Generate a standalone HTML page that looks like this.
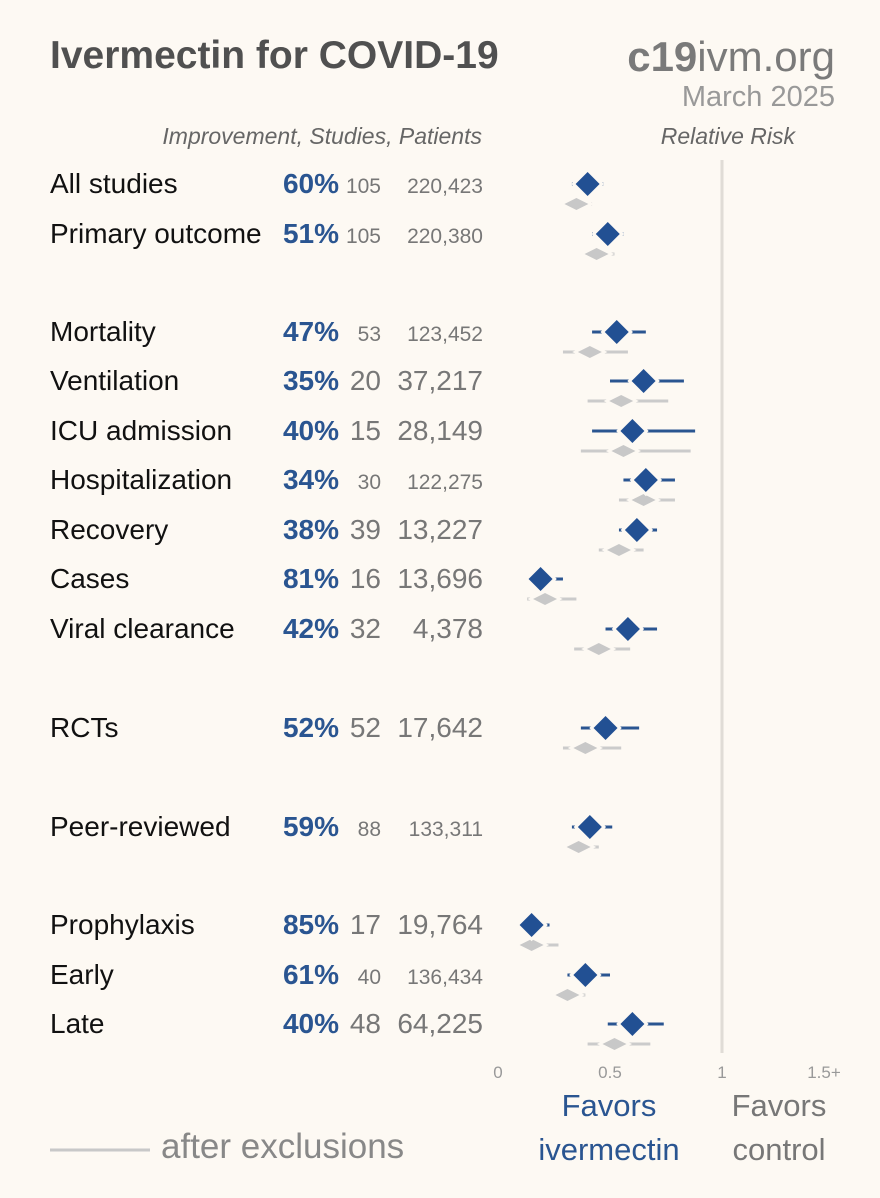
<!DOCTYPE html>
<html><head><meta charset="utf-8"><style>
html,body{margin:0;padding:0;background:#fdf9f3;}
svg{display:block;font-family:"Liberation Sans Narrow","Liberation Sans",sans-serif;}
</style></head><body>
<svg id="chart" width="880" height="1198" viewBox="0 0 880 1198" xmlns="http://www.w3.org/2000/svg">
<rect width="880" height="1198" fill="#fdf9f3"/>
<text x="50" y="68" font-family="Liberation Sans, sans-serif" font-weight="bold" font-size="39" fill="#505050">Ivermectin for COVID-19</text>
<text x="835" y="71" text-anchor="end" font-family="Liberation Sans, sans-serif" font-size="42" fill="#7a7a7a"><tspan font-weight="bold">c19</tspan>ivm.org</text>
<text x="835" y="106" text-anchor="end" font-size="29" fill="#999">March 2025</text>
<text x="482" y="144" text-anchor="end" font-style="italic" font-size="23" fill="#666">Improvement, Studies, Patients</text>
<text x="795" y="144" text-anchor="end" font-style="italic" font-size="23" fill="#666">Relative Risk</text>
<line x1="722" y1="160" x2="722" y2="1053" stroke="#e0dcd6" stroke-width="3"/>
<g id="rows"></g>
<g id="marks"></g>
<g id="ticks"></g>
<text x="609" y="1116" text-anchor="middle" font-size="31" fill="#2a5591">Favors</text>
<text x="609" y="1160" text-anchor="middle" font-size="31" fill="#2a5591">ivermectin</text>
<text x="779" y="1116" text-anchor="middle" font-size="31" fill="#777">Favors</text>
<text x="779" y="1160" text-anchor="middle" font-size="31" fill="#777">control</text>
<line x1="50" y1="1150" x2="150" y2="1150" stroke="#c8c8c8" stroke-width="3"/>
<text x="161" y="1158" font-size="35" fill="#888">after exclusions</text>
</svg>
<script>
const labels=["All studies","Primary outcome","Mortality","Ventilation","ICU admission","Hospitalization","Recovery","Cases","Viral clearance","RCTs","Peer-reviewed","Prophylaxis","Early","Late"];
const improvement=["60%","51%","47%","35%","40%","34%","38%","81%","42%","52%","59%","85%","61%","40%"];
const studies=["105","105","53","20","15","30","39","16","32","52","88","17","40","48"];
const patients=["220,423","220,380","123,452","37,217","28,149","122,275","13,227","13,696","4,378","17,642","133,311","19,764","136,434","64,225"];
const smallText=[1,1,1,0,0,1,0,0,0,0,1,0,1,0];
const rowY=[184,234,332,381,431,480,530,579,629,728,827,925,975,1024];
const rr=[0.40,0.49,0.53,0.65,0.60,0.66,0.62,0.19,0.58,0.48,0.41,0.15,0.39,0.60];
const lo=[0.33,0.42,0.42,0.50,0.42,0.56,0.54,0.13,0.48,0.37,0.33,0.10,0.31,0.49];
const hi=[0.47,0.56,0.66,0.83,0.88,0.79,0.71,0.29,0.71,0.63,0.51,0.23,0.50,0.74];
const rrEx=[0.35,0.44,0.41,0.55,0.56,0.65,0.54,0.21,0.45,0.39,0.36,0.15,0.31,0.52];
const loEx=[0.30,0.38,0.29,0.40,0.37,0.54,0.45,0.13,0.34,0.29,0.30,0.10,0.26,0.40];
const hiEx=[0.42,0.52,0.58,0.76,0.86,0.79,0.65,0.35,0.59,0.55,0.45,0.27,0.39,0.68];
const tickVals=[0,0.5,1,1.5];
const tickLabels=["0","0.5","1","1.5+"];
const NS="http://www.w3.org/2000/svg";
const x=v=>498+v*224;
function mk(tag,attrs,parent,txt){const e=document.createElementNS(NS,tag);for(const k in attrs)e.setAttribute(k,attrs[k]);if(txt!==undefined)e.textContent=txt;parent.appendChild(e);return e;}
const rows=document.getElementById('rows'),marks=document.getElementById('marks'),ticks=document.getElementById('ticks');
labels.forEach((l,i)=>{
  const y=rowY[i]+9;
  const t=mk('text',{x:50,y:y,'font-size':28,fill:'#111'},rows,l);
  
  
  const p=mk('text',{x:339,y:y,'text-anchor':'end','font-size':28,'font-weight':'bold',fill:'#2a5591'},rows,improvement[i]);
  
  
  const fs=smallText[i]?21:28;
  const s=mk('text',{x:381,y:y,'text-anchor':'end','font-size':fs,fill:'#777'},rows,studies[i]);
  
  
  const n=mk('text',{x:483,y:y,'text-anchor':'end','font-size':fs,fill:'#777'},rows,patients[i]);
  
  
  const gy=rowY[i]+20;
  const gl=mk('line',{x1:x(loEx[i]),y1:gy,x2:x(hiEx[i]),y2:gy,stroke:'#cbcbcb','stroke-width':3},marks);
  
  
  const gx=x(rrEx[i]);
  const gd=mk('polygon',{points:`${gx-12},${gy} ${gx},${gy-6} ${gx+12},${gy} ${gx},${gy+6}`,fill:'#c8c8c8',stroke:'#fdf9f3','stroke-width':5,'paint-order':'stroke'},marks);
  
  
  const by=rowY[i];
  const bl=mk('line',{x1:x(lo[i]),y1:by,x2:x(hi[i]),y2:by,stroke:'#2a5591','stroke-width':3},marks);
  
  
  const bx=x(rr[i]);
  const bd=mk('polygon',{points:`${bx-12},${by} ${bx},${by-12} ${bx+12},${by} ${bx},${by+12}`,fill:'#225093',stroke:'#fdf9f3','stroke-width':6,'paint-order':'stroke'},marks);
  
  
});
tickVals.forEach((v,i)=>{
  const t=mk('text',{x:x(v)+(i===3?-10:0),y:1078,'text-anchor':'middle','font-size':17,fill:'#999'},ticks,tickLabels[i]);
  
  
});
</script>
</body></html>
